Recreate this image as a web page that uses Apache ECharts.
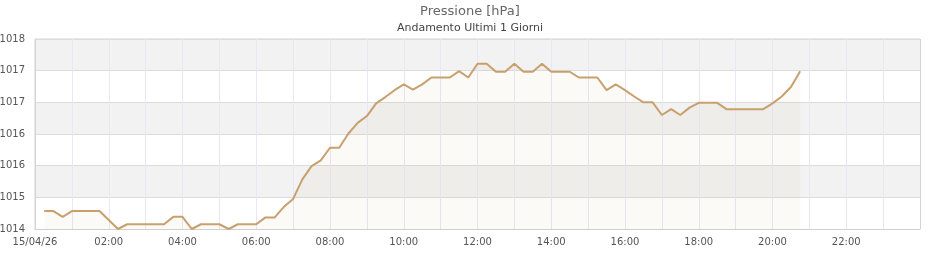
<!DOCTYPE html>
<html>
<head>
<meta charset="utf-8">
<script src="https://cdn.jsdelivr.net/npm/echarts@6/dist/echarts.min.js"></script>
<style>html,body{margin:0;padding:0;background:#fff}#c{width:940px;height:260px}</style>
</head>
<body>
<div id="c"></div>
<script>
const titleText = 'Pressione [hPa]';
const subtitleText = 'Andamento Ultimi 1 Giorni';
const times = ['00:15','00:30','00:45','01:00','01:15','01:30','01:45','02:00','02:15','02:30','02:45','03:00','03:15','03:30','03:45','04:00','04:15','04:30','04:45','05:00','05:15','05:30','05:45','06:00','06:15','06:30','06:45','07:00','07:15','07:30','07:45','08:00','08:15','08:30','08:45','09:00','09:15','09:30','09:45','10:00','10:15','10:30','10:45','11:00','11:15','11:30','11:45','12:00','12:15','12:30','12:45','13:00','13:15','13:30','13:45','14:00','14:15','14:30','14:45','15:00','15:15','15:30','15:45','16:00','16:15','16:30','16:45','17:00','17:15','17:30','17:45','18:00','18:15','18:30','18:45','19:00','19:15','19:30','19:45','20:00','20:15','20:30','20:45'];
const pressure = [1014.74,1014.74,1014.63,1014.74,1014.74,1014.74,1014.74,1014.57,1014.40,1014.49,1014.49,1014.49,1014.49,1014.49,1014.63,1014.63,1014.40,1014.49,1014.49,1014.49,1014.40,1014.49,1014.49,1014.49,1014.62,1014.62,1014.82,1014.97,1015.34,1015.59,1015.70,1015.94,1015.94,1016.21,1016.41,1016.54,1016.78,1016.90,1017.03,1017.14,1017.04,1017.14,1017.27,1017.27,1017.27,1017.39,1017.27,1017.53,1017.53,1017.38,1017.38,1017.53,1017.38,1017.38,1017.53,1017.38,1017.38,1017.38,1017.27,1017.27,1017.27,1017.03,1017.14,1017.03,1016.91,1016.80,1016.80,1016.56,1016.67,1016.56,1016.70,1016.79,1016.79,1016.79,1016.67,1016.67,1016.67,1016.67,1016.67,1016.78,1016.91,1017.09,1017.39];
const xTickLabels = ['15/04/26','02:00','04:00','06:00','08:00','10:00','12:00','14:00','16:00','18:00','20:00','22:00'];
const yTickLabels = ['1014','1015','1016','1016','1017','1017','1018'];
const yBase = 1014.4;

const toMin = t => { const p = t.split(':'); return (+p[0]) * 60 + (+p[1]); };
const seriesData = times.map((t, i) => [toMin(t), Math.round((pressure[i] - yBase) * 1000) / 100]);

const vColors = ['#d4d4d4'];
for (let i = 1; i < 24; i++) vColors.push('#e9e7f6');

const chart = echarts.init(document.getElementById('c'));
chart.setOption({
  animation: false,
  textStyle: { fontFamily: 'DejaVu Sans' },
  title: {
    text: titleText,
    subtext: subtitleText,
    left: 'center',
    top: 0,
    itemGap: 5,
    textStyle: { fontFamily: 'DejaVu Sans', fontSize: 13, fontWeight: 'normal', color: '#666' },
    subtextStyle: { fontFamily: 'DejaVu Sans', fontSize: 11, color: '#444' }
  },
  grid: { left: 35, right: 20, top: 39, bottom: 31, containLabel: false, outerBoundsMode: 'none', show: true, borderColor: '#d4d4d4', borderWidth: 1, backgroundColor: 'transparent' },
  xAxis: {
    type: 'value', min: 0, max: 1440, interval: 60,
    axisLine: { show: true, lineStyle: { color: '#cfcfcf', width: 1 } },
    axisTick: { show: false },
    axisLabel: {
      margin: 8, fontSize: 10, color: '#555', showMaxLabel: false,
      formatter: v => (v % 120 === 0 && v / 120 < xTickLabels.length) ? xTickLabels[v / 120] : ''
    },
    splitLine: { show: true, lineStyle: { color: vColors, width: 1 } }
  },
  yAxis: {
    type: 'value', min: 0, max: 36, interval: 6,
    axisLine: { show: false }, axisTick: { show: false },
    axisLabel: { margin: 10, fontSize: 10, color: '#555', formatter: v => yTickLabels[Math.round(v / 6)] },
    splitLine: { show: true, lineStyle: { color: '#dcdcdc', width: 1 } },
    splitArea: { show: true, areaStyle: { color: ['#ffffff', '#f2f2f2'] } }
  },
  series: [{
    type: 'line', data: seriesData, showSymbol: false, symbol: 'none',
    lineStyle: { color: '#c8a06e', width: 2 },
    areaStyle: { color: 'rgba(200,160,110,0.08)', origin: 'start' },
    emphasis: { disabled: true }
  }]
});
</script>
</body>
</html>
